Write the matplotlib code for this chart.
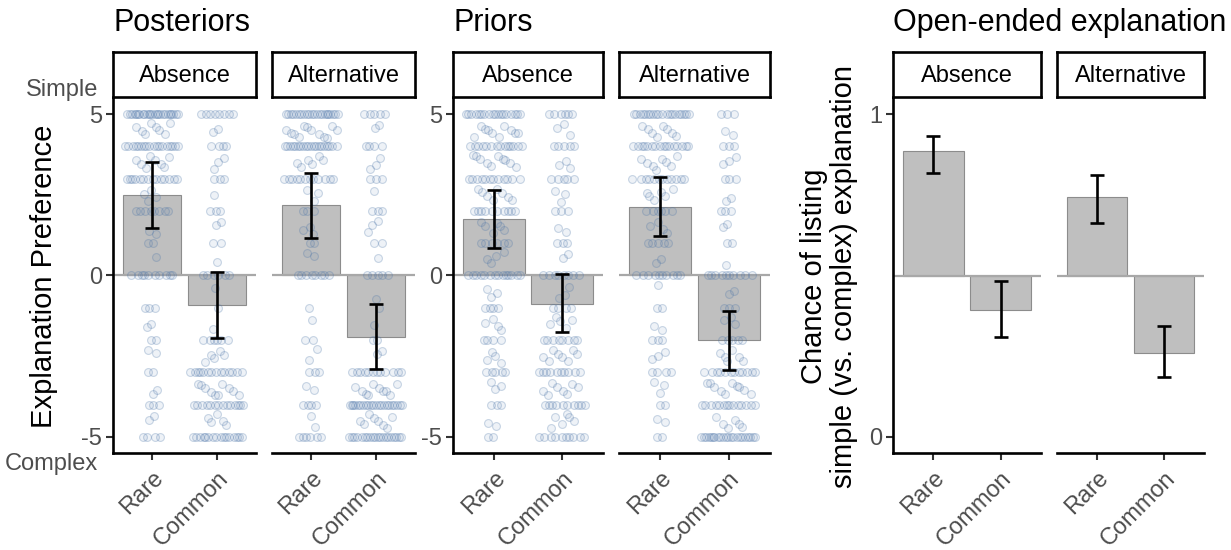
import numpy as np
import matplotlib.pyplot as plt

plt.rcParams['font.family'] = ['Liberation Sans', 'DejaVu Sans']
plt.rcParams['axes.unicode_minus'] = False

# ---- data ----
facets = ['Absence', 'Alternative']
conditions = ['Rare', 'Common']

# bar estimates with 95% CI, rows = facet, cols = condition
post_mean = [[2.50, -0.90], [2.17, -1.90]]
post_lo = [[1.48, -1.94], [1.17, -2.90]]
post_hi = [[3.52, 0.10], [3.18, -0.87]]

prior_mean = [[1.75, -0.87], [2.13, -2.00]]
prior_lo = [[0.85, -1.76], [1.23, -2.92]]
prior_hi = [[2.66, 0.05], [3.05, -1.10]]

open_mean = [[0.886, 0.394], [0.743, 0.260]]
open_lo = [[0.817, 0.310], [0.664, 0.185]]
open_hi = [[0.933, 0.484], [0.811, 0.345]]

# individual responses: counts per response level (5 .. -5 in half steps)
levels = [5, 4.5, 4, 3.5, 3, 2.5, 2, 1.5, 1, 0.5, 0,
          -0.5, -1, -1.5, -2, -2.5, -3, -3.5, -4, -4.5, -5]
post_abs_rare = [25, 8, 18, 8, 14, 4, 8, 2, 2, 1, 10, 0, 3, 2, 2, 2, 2, 2, 3, 2, 4]
post_abs_common = [8, 2, 4, 3, 3, 1, 3, 2, 2, 1, 6, 1, 1, 1, 6, 5, 14, 10, 14, 5, 16]
post_alt_rare = [22, 12, 20, 6, 12, 3, 3, 3, 2, 2, 8, 0, 1, 1, 2, 2, 3, 2, 4, 2, 6]
post_alt_common = [5, 2, 4, 3, 3, 1, 3, 3, 2, 1, 5, 1, 1, 1, 2, 2, 12, 10, 22, 8, 20]
prior_abs_rare = [18, 10, 14, 10, 12, 8, 10, 6, 6, 4, 14, 3, 4, 4, 4, 4, 5, 3, 3, 2, 2]
prior_abs_common = [6, 3, 5, 3, 5, 3, 3, 2, 3, 2, 8, 3, 4, 5, 8, 8, 10, 8, 10, 6, 10]
prior_alt_rare = [20, 8, 16, 8, 12, 6, 6, 4, 5, 2, 10, 1, 2, 2, 3, 3, 4, 3, 2, 2, 2]
prior_alt_common = [3, 2, 3, 3, 3, 2, 3, 2, 2, 1, 10, 2, 3, 3, 5, 6, 12, 10, 14, 6, 22]

# ---- layout (pixels) ----
W, H = 1231, 550
fig = plt.figure(figsize=(W / 100, H / 100), dpi=100)
PANEL_TOP, PANEL_BOT = 98, 453
STRIP_TOP, STRIP_BOT = 52, 97
GREY_TXT = '#4D4D4D'
PT_COL = (0.29, 0.45, 0.66)
TICK_FS = 17


def add_ax(x0, x1, y0, y1):
    return fig.add_axes([x0 / W, 1 - y1 / H, (x1 - x0) / W, (y1 - y0) / H])


def add_strip(x0, x1, label):
    s = add_ax(x0, x1, STRIP_TOP, STRIP_BOT)
    s.set_xticks([])
    s.set_yticks([])
    for sp in s.spines.values():
        sp.set_linewidth(1.9)
    s.text(0.5, 0.47, label, ha='center', va='center', fontsize=TICK_FS,
           transform=s.transAxes)


def draw_points(ax, xpos, counts, seed):
    for j, (lev, n) in enumerate(zip(levels, counts)):
        if n == 0:
            continue
        k = np.arange(1, n + 1)
        u = (k * 0.6180339887 + (seed * 7 + j) * 0.371) % 1.0
        half = min(0.42, 0.03 + 0.032 * n)
        xs = xpos + (u - 0.5) * 2 * half
        ys = np.full(n, float(lev))
        if lev != int(lev):
            v = (k * 0.7548776662 + (seed * 3 + j) * 0.213) % 1.0
            ys = ys + (v - 0.5) * 0.45
        ax.scatter(xs, ys, s=32, facecolor=PT_COL + (0.09,),
                   edgecolor=PT_COL + (0.28,), linewidth=0.8, zorder=3)


def draw_facet(ax, mean, lo, hi, base, ylim, pts=None, seed=0, first=False):
    x = np.arange(1, len(conditions) + 1)
    mean = np.array(mean)
    ax.bar(x, mean - base, bottom=base, width=0.9, color='#BFBFBF',
           edgecolor='#8C8C8C', linewidth=0.8, zorder=1)
    ax.axhline(base, color='#A8A8A8', lw=1.6, zorder=2)
    if pts is not None:
        for i, c in enumerate(pts):
            draw_points(ax, x[i], c, seed * 2 + i)
    ax.errorbar(x, mean, yerr=[mean - np.array(lo), np.array(hi) - mean],
                fmt='none', ecolor='black', elinewidth=1.9, capsize=5,
                capthick=1.9, zorder=4)
    ax.set_xlim(0.4, 2.6)
    ax.set_ylim(*ylim)
    ax.spines['top'].set_visible(False)
    ax.spines['right'].set_visible(False)
    ax.spines['bottom'].set_linewidth(1.9)
    ax.spines['left'].set_linewidth(1.9)
    ax.set_xticks(x)
    ax.set_xticklabels(conditions, rotation=45, ha='right', va='top',
                       rotation_mode='anchor', fontsize=TICK_FS, color=GREY_TXT)
    ax.tick_params(axis='x', length=5, width=1.5, color='#333333', pad=5)
    ax.tick_params(axis='y', length=5, width=1.5, color='#333333', pad=3,
                   labelsize=TICK_FS, labelcolor=GREY_TXT)
    if not first:
        ax.spines['left'].set_visible(False)
        ax.set_yticks([])
    ax.patch.set_alpha(0)


post_pts = [[post_abs_rare, post_abs_common], [post_alt_rare, post_alt_common]]
prior_pts = [[prior_abs_rare, prior_abs_common], [prior_alt_rare, prior_alt_common]]

groups = [
    ('Posteriors', [(113, 256), (272, 415)], post_mean, post_lo, post_hi, post_pts, 0, (-5.5, 5.5)),
    ('Priors', [(453, 603), (619, 770)], prior_mean, prior_lo, prior_hi, prior_pts, 0, (-5.5, 5.5)),
    ('Open-ended explanation', [(893, 1041), (1057, 1204)], open_mean, open_lo, open_hi, None, 0.5, (-0.05, 1.05)),
]

for gi, (title, xs, mean, lo, hi, pts, base, ylim) in enumerate(groups):
    for fi, (x0, x1) in enumerate(xs):
        ax = add_ax(x0, x1, PANEL_TOP, PANEL_BOT)
        draw_facet(ax, mean[fi], lo[fi], hi[fi], base, ylim,
                   pts=None if pts is None else pts[fi],
                   seed=gi * 2 + fi, first=(fi == 0))
        if fi == 0:
            if base == 0:
                ax.set_yticks([-5, 0, 5])
                ax.set_yticklabels(['-5', '0', '5'])
            else:
                ax.set_yticks([0, 1])
                ax.set_yticklabels(['0', '1'])
        add_strip(x0, x1, facets[fi])
    fig.text(xs[0][0] / W, 1 - 31 / H, title, fontsize=22, ha='left',
             va='baseline')

fig.text(98 / W, 1 - 90 / H, 'Simple', fontsize=TICK_FS, color=GREY_TXT,
         ha='right', va='center')
fig.text(98 / W, 1 - 464 / H, 'Complex', fontsize=TICK_FS, color=GREY_TXT,
         ha='right', va='center')
fig.text(44 / W, 1 - 276 / H, 'Explanation Preference', fontsize=21,
         rotation=90, ha='center', va='center')
fig.text(829 / W, 1 - 276 / H, 'Chance of listing\nsimple (vs. complex) explanation',
         fontsize=21, rotation=90, ha='center', va='center', linespacing=1.1)

fig.savefig('out.png', dpi=100)
